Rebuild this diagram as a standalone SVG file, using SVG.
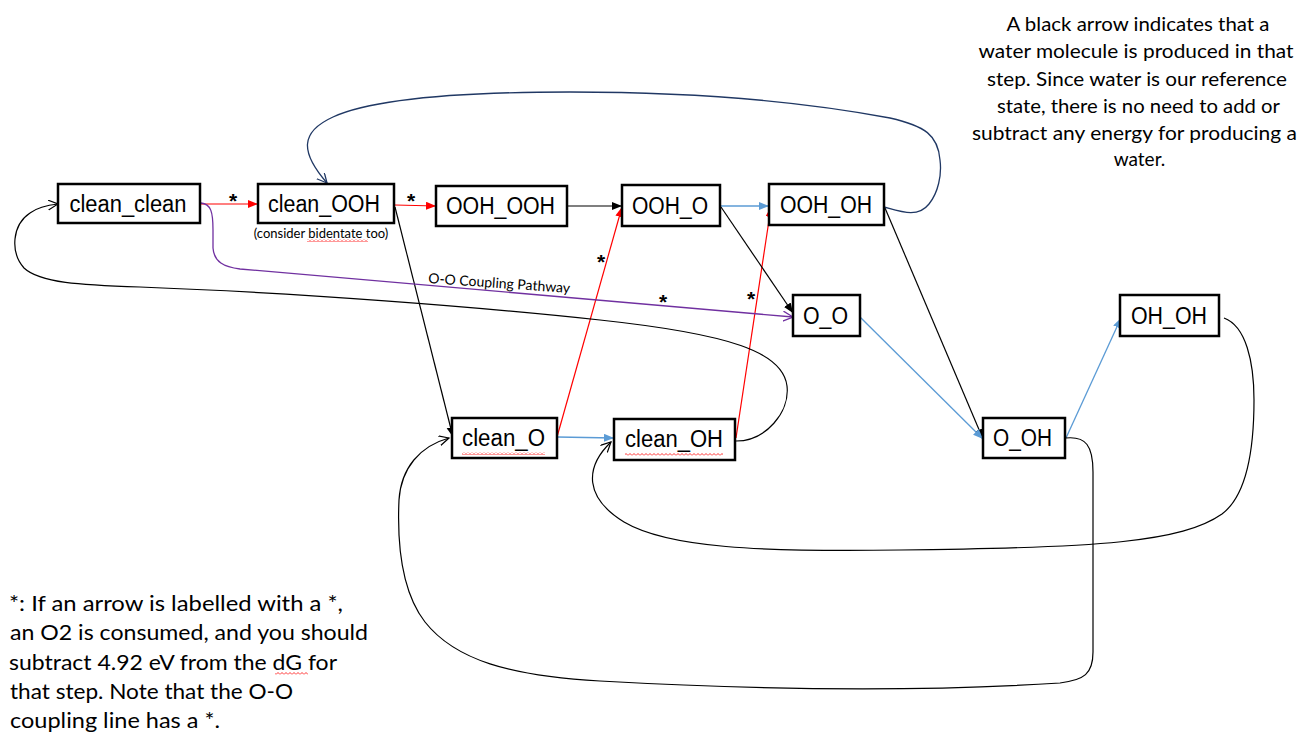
<svg xmlns="http://www.w3.org/2000/svg" width="1312" height="742" viewBox="0 0 1312 742">
<style>
.box{fill:#fff;stroke:#000;stroke-width:2.5}
.lbl{font-family:"Liberation Sans",Arial,sans-serif;font-size:23px;fill:#000;text-anchor:middle}
.note{font-family:Lato,"Open Sans",sans-serif;fill:#000}
.star{font-family:"Liberation Sans",Arial,sans-serif;font-size:21px;font-weight:bold;fill:#000;text-anchor:middle}
.k{fill:none;stroke:#000;stroke-width:1.2}
.r{fill:none;stroke:#FF0000;stroke-width:1.2}
.b{fill:none;stroke:#5B9BD5;stroke-width:1.3}
.p{fill:none;stroke:#7030A0;stroke-width:1.3}
.n{fill:none;stroke:#203864;stroke-width:1.3}
</style>
<defs>
<marker id="ak" markerUnits="userSpaceOnUse" markerWidth="11" markerHeight="9" refX="10" refY="4" orient="auto"><path d="M0,0 L10,4 L0,8 z" fill="#000"/></marker>
<marker id="ar" markerUnits="userSpaceOnUse" markerWidth="11" markerHeight="9" refX="10" refY="4" orient="auto"><path d="M0,0 L10,4 L0,8 z" fill="#FF0000"/></marker>
<marker id="ab" markerUnits="userSpaceOnUse" markerWidth="11" markerHeight="9" refX="10" refY="4" orient="auto"><path d="M0,0 L10,4 L0,8 z" fill="#5B9BD5"/></marker>
<marker id="ok" markerUnits="userSpaceOnUse" markerWidth="12" markerHeight="12" refX="10" refY="5" orient="auto"><path d="M0,0 L10,5 L0,10" fill="none" stroke="#000" stroke-width="1.2"/></marker>
<marker id="op" markerUnits="userSpaceOnUse" markerWidth="12" markerHeight="12" refX="10" refY="5" orient="auto"><path d="M0,0 L10,5 L0,10" fill="none" stroke="#7030A0" stroke-width="1.3"/></marker>
<marker id="on" markerUnits="userSpaceOnUse" markerWidth="12" markerHeight="12" refX="10" refY="5" orient="auto"><path d="M0,0 L10,5 L0,10" fill="none" stroke="#203864" stroke-width="1.3"/></marker>
<pattern id="sq" width="4" height="3" patternUnits="userSpaceOnUse"><path d="M0,2.5 L2,0.5 L4,2.5" fill="none" stroke="#FF0000" stroke-width="0.8"/></pattern>
</defs>
<rect width="1312" height="742" fill="#fff"/>

<g id="connectors">
<line class="r" x1="201" y1="204" x2="258" y2="204" marker-end="url(#ar)"/>
<line class="r" x1="395" y1="205" x2="436" y2="206" marker-end="url(#ar)"/>
<line class="r" x1="557" y1="437" x2="622" y2="207" marker-end="url(#ar)"/>
<line class="r" x1="736" y1="438" x2="771" y2="207" marker-end="url(#ar)"/>
<line class="k" x1="567" y1="206" x2="622" y2="206" marker-end="url(#ak)"/>
<line class="k" x1="395" y1="207" x2="453" y2="437" marker-end="url(#ak)"/>
<line class="k" x1="721" y1="207" x2="793" y2="313" marker-end="url(#ak)"/>
<line class="k" x1="885" y1="208" x2="983" y2="439" marker-end="url(#ak)"/>
<line class="b" x1="720" y1="206" x2="769" y2="206" marker-end="url(#ab)"/>
<line class="b" x1="557" y1="437" x2="614" y2="438" marker-end="url(#ab)"/>
<line class="b" x1="860" y1="317" x2="983" y2="439" marker-end="url(#ab)"/>
<line class="b" x1="1066" y1="438" x2="1121" y2="318" marker-end="url(#ab)"/>
<path class="p" d="M201,203 C211,204 213,212 213,230 L213,248 C214,262 224,267 240,269 L793,317" marker-end="url(#op)"/>
<path class="n" d="M884,207 C902,212 918,218 929,204 C938,193 942,175 940,160 C938,135 925,126 890,118 C800,101 700,92 570,92 C450,92 370,100 333,117 C300,132 300,152 327,183" marker-end="url(#on)"/>
<path class="k" d="M736,441 C766,441 790,412 787,386 C783,352 730,334 600,320 C480,307 300,293 140,287 C80,285 40,283 24,268 C10,252 12,225 30,213 C38,207 48,205 58,204" marker-end="url(#ok)"/>
<path class="k" d="M1066,438 C1086,436 1093,446 1093,472 L1093,652 C1093,674 1084,680 1060,683 C920,692 760,690 600,681 C510,676 455,660 425,622 C402,592 397,545 399,500 C401,468 420,446 449,438" marker-end="url(#ok)"/>
<path class="k" d="M1224,318 C1246,326 1254,362 1254,400 C1254,452 1246,496 1222,514 C1182,542 1100,548 900,550 C760,552 668,548 624,522 C585,498 584,468 611,442" marker-end="url(#ok)"/>
<text class="star" x="233" y="208">*</text>
<text class="star" x="411" y="208">*</text>
<text class="star" x="601" y="269">*</text>
<text class="star" x="751" y="306">*</text>
<text class="star" x="663" y="309">*</text>
<text class="note" font-size="14" transform="translate(428,283) rotate(4)">O-O Coupling Pathway</text>
</g>

<g id="node-clean_clean"><rect class="box" x="58" y="184" width="142" height="39"/><text class="lbl" x="128" y="212" textLength="117" lengthAdjust="spacingAndGlyphs">clean_clean</text></g>
<g id="node-clean_OOH"><rect class="box" x="258" y="184" width="136" height="39"/><text class="lbl" x="324" y="212" textLength="112" lengthAdjust="spacingAndGlyphs">clean_OOH</text>
<text class="note" font-size="13" x="321" y="238" text-anchor="middle">(consider bidentate too)</text>
<rect x="307" y="239" width="61" height="3" fill="url(#sq)"/></g>
<g id="node-OOH_OOH"><rect class="box" x="436" y="186" width="131" height="40"/><text class="lbl" x="500.5" y="214" textLength="109" lengthAdjust="spacingAndGlyphs">OOH_OOH</text></g>
<g id="node-OOH_O"><rect class="box" x="622" y="185" width="98" height="41"/><text class="lbl" x="670" y="214" textLength="76" lengthAdjust="spacingAndGlyphs">OOH_O</text></g>
<g id="node-OOH_OH"><rect class="box" x="769" y="184" width="115" height="41"/><text class="lbl" x="826" y="213" textLength="92" lengthAdjust="spacingAndGlyphs">OOH_OH</text></g>
<g id="node-O_O"><rect class="box" x="793" y="295" width="67" height="41"/><text class="lbl" x="825.5" y="324" textLength="45" lengthAdjust="spacingAndGlyphs">O_O</text></g>
<g id="node-OH_OH"><rect class="box" x="1120" y="295" width="99" height="41"/><text class="lbl" x="1169" y="324" textLength="76" lengthAdjust="spacingAndGlyphs">OH_OH</text></g>
<g id="node-clean_O"><rect class="box" x="452" y="418" width="105" height="40"/><text class="lbl" x="503.5" y="446" textLength="83" lengthAdjust="spacingAndGlyphs">clean_O</text>
<rect x="462" y="452" width="83" height="3" fill="url(#sq)"/></g>
<g id="node-clean_OH"><rect class="box" x="614" y="419" width="121" height="41"/><text class="lbl" x="674" y="447" textLength="98" lengthAdjust="spacingAndGlyphs">clean_OH</text>
<rect x="625" y="453" width="98" height="3" fill="url(#sq)"/></g>
<g id="node-O_OH"><rect class="box" x="983" y="418" width="82" height="40"/><text class="lbl" x="1022.5" y="446" textLength="59" lengthAdjust="spacingAndGlyphs">O_OH</text></g>

<g id="note-water" class="note" font-size="19" text-anchor="middle">
<text x="1138" y="31" textLength="263" lengthAdjust="spacingAndGlyphs">A black arrow indicates that a</text>
<text x="1136" y="58" textLength="315" lengthAdjust="spacingAndGlyphs">water molecule is produced in that</text>
<text x="1137" y="86" textLength="300" lengthAdjust="spacingAndGlyphs">step. Since water is our reference</text>
<text x="1138.5" y="113" textLength="283" lengthAdjust="spacingAndGlyphs">state, there is no need to add or</text>
<text x="1134.5" y="140" textLength="325" lengthAdjust="spacingAndGlyphs">subtract any energy for producing a</text>
<text x="1139.5" y="166">water.</text>
</g>

<g id="note-star" class="note" font-size="21">
<text x="9" y="611" textLength="334" lengthAdjust="spacingAndGlyphs">*: If an arrow is labelled with a *,</text>
<text x="10" y="640" textLength="358" lengthAdjust="spacingAndGlyphs">an O2 is consumed, and you should</text>
<text x="9" y="670" textLength="328" lengthAdjust="spacingAndGlyphs">subtract 4.92 eV from the dG for</text>
<text x="10" y="699" textLength="283" lengthAdjust="spacingAndGlyphs">that step. Note that the O-O</text>
<text x="10" y="728" textLength="210" lengthAdjust="spacingAndGlyphs">coupling line has a *.</text>
<rect x="275" y="672" width="33" height="3" fill="url(#sq)"/>
</g>
</svg>
